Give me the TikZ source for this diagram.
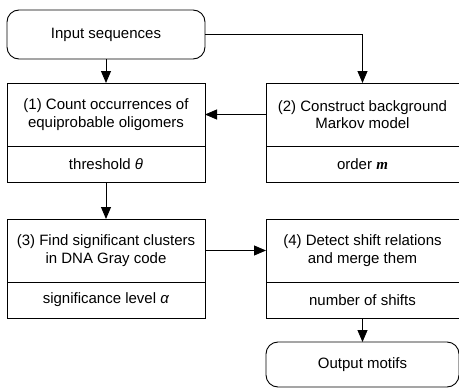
\documentclass[tikz,border=0pt]{standalone}
\usepackage{fontspec}
\setmainfont{Liberation Sans}
\newfontfamily\timesfont{Liberation Serif}
\usetikzlibrary{arrows.meta, positioning}

\begin{document}
\begin{tikzpicture}[x=1pt,y=1pt,node distance=24pt,
    font=\fontsize{15}{17.5}\selectfont, line width=0.9pt,
    >={Triangle[length=12pt,width=10pt]},
    io/.style={draw, rounded corners=12pt, inner sep=0pt, outer sep=0pt,
      minimum height=49pt, minimum width=198pt},
    task/.style={draw, align=center, inner sep=0pt, outer sep=0pt,
      minimum height=63pt, minimum width=198pt},
    param/.style={draw, inner sep=0pt, outer sep=0pt,
      minimum height=36pt, minimum width=198pt}]
  \useasboundingbox (0,0) rectangle (459,-388);
  \node[io] (input) at (106,-34.5) {Input sequences};
    \node[task] (count) [below=of input] {(1) Count occurrences of\\equiprobable oligomers};
    \node[param] (theta) [below=0pt of count] {threshold \textit{θ}};
    \node[task, minimum width=193pt] (markov) [right=61pt of count] {(2) Construct background\\Markov model};
    \node[param, minimum width=193pt] (order) [below=0pt of markov] {order {\timesfont\bfseries\itshape m}};
  \node[task] (gray) [below=37pt of theta] {(3) Find significant clusters\\in DNA Gray code};
    \node[param] (alpha) [below=0pt of gray] {significance level \textit{α}};
    \node[task, minimum width=193pt] (shift) [right=61pt of gray] {(4) Detect shift relations\\and merge them};
    \node[param, minimum width=193pt] (shifts) [below=0pt of shift] {number of shifts};
  \node[io, minimum width=193pt, minimum height=45pt] (output) [below=of shifts] {Output motifs};

  \draw[->] (input) -- (count);
  \draw[->] (input.east) -| (markov.north);
  \draw[->] (markov) -- (count);
  \draw[->] (theta) -- (gray);
  \draw[->] (gray) -- (shift);
  \draw[->] (shifts) -- (output);
\end{tikzpicture}
\end{document}
